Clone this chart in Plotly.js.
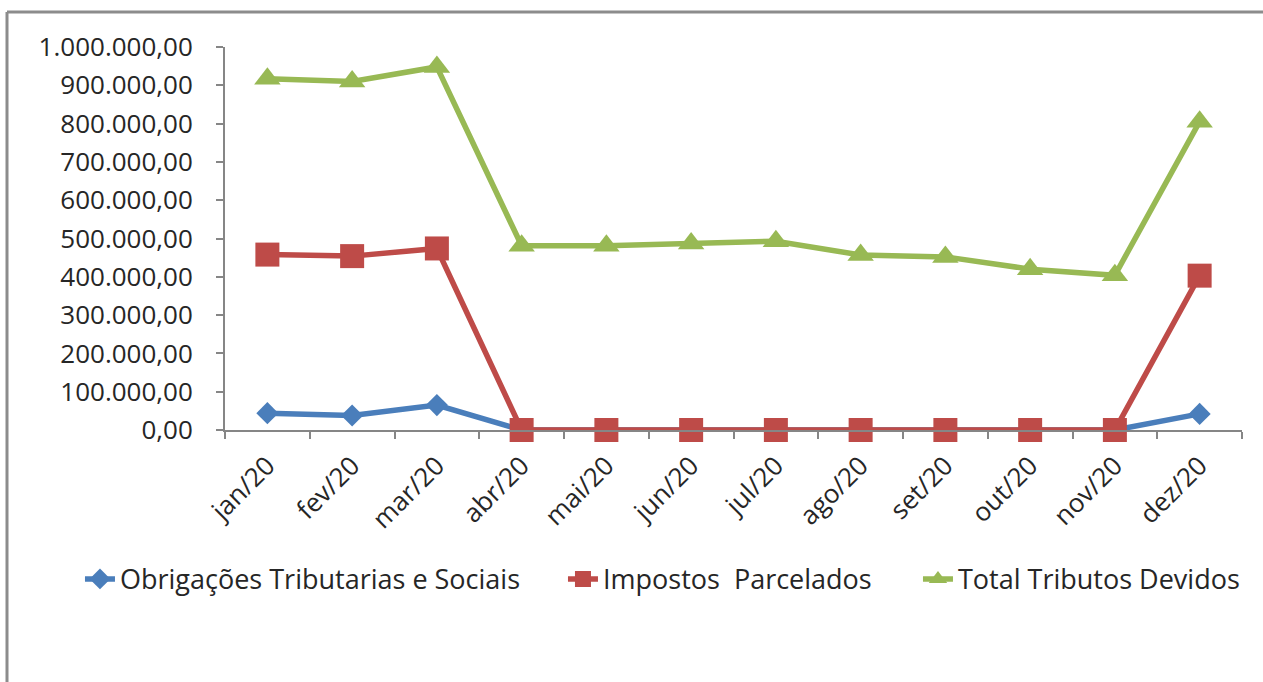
<!DOCTYPE html>
<html>
<head>
<meta charset="utf-8">
<script src="https://cdn.plot.ly/plotly-3.0.1.min.js"></script>
<style>
html,body{margin:0;padding:0;background:#fff;}
#chart{width:1263px;height:682px;}
</style>
</head>
<body>
<div id="chart"></div>
<script>
const months = ["jan/20","fev/20","mar/20","abr/20","mai/20","jun/20","jul/20","ago/20","set/20","out/20","nov/20","dez/20"];
const obrigacoes = [44000, 38000, 65000, 0, 0, 0, 0, 0, 0, 0, 0, 42000];
const parcelados = [458000, 454000, 474000, 0, 0, 0, 0, 0, 0, 0, 0, 403000];
const totalDevidos = [917000, 910000, 948000, 481000, 481000, 487000, 493000, 457000, 452000, 420000, 404000, 805000];
const seriesNames = ["Obrigações Tributarias e Sociais", "Impostos  Parcelados", "Total Tributos Devidos"];

const FONT = "Open Sans, Noto Sans, sans-serif";
const TXT = "#262626";
const traces = [
  {x: months, y: obrigacoes, name: seriesNames[0], type: "scatter", mode: "lines+markers", legendwidth: 438,
   line: {color: "#4A7EBB", width: 5.5}, marker: {symbol: "diamond", size: 17, color: "#4A7EBB"}, cliponaxis: false},
  {x: months, y: parcelados, name: seriesNames[1], type: "scatter", mode: "lines+markers", legendwidth: 310,
   line: {color: "#BE4B48", width: 5.5}, marker: {symbol: "square", size: 24, color: "#BE4B48"}, cliponaxis: false},
  {x: months, y: totalDevidos, name: seriesNames[2], type: "scatter", mode: "lines+markers",
   line: {color: "#98B954", width: 5.5}, marker: {symbol: "triangle-up", size: 23, color: "#98B954"}, cliponaxis: false}
];
const layout = {
  width: 1263, height: 682,
  margin: {l: 225, r: 21, t: 47, b: 252},
  paper_bgcolor: "#fff", plot_bgcolor: "#fff",
  separators: ",.",
  font: {family: FONT, size: 26, color: TXT},
  showlegend: true,
  legend: {orientation: "h", x: -0.1426, xanchor: "left", y: -0.39, yanchor: "middle",
           font: {family: FONT, size: 27, color: TXT}, itemwidth: 30, tracegroupgap: 0},
  xaxis: {type: "category", range: [-0.5, 11.5], showgrid: false, zeroline: false,
          showline: true, linecolor: "#868686", linewidth: 2,
          ticks: "outside", ticklen: 7, tickwidth: 2, tickcolor: "#868686", tickson: "boundaries",
          tickangle: -45, ticklabelstandoff: 8, tickfont: {family: FONT, size: 26, color: TXT}},
  yaxis: {range: [0, 1000000], dtick: 100000, tick0: 0, tickformat: ",.2f", showgrid: false, zeroline: false,
          showline: true, linecolor: "#868686", linewidth: 2,
          ticks: "outside", ticklen: 7, tickwidth: 2, tickcolor: "#868686", ticklabelstandoff: 18,
          tickfont: {family: FONT, size: 26, color: TXT}},
  shapes: [
    {type: "line", xref: "paper", yref: "paper", x0: (7-225)/1017, x1: (1263-225)/1017, y0: (430-12)/383, y1: (430-12)/383,
     line: {color: "#8C8C8C", width: 3}},
    {type: "line", xref: "paper", yref: "paper", x0: (7-225)/1017, x1: (7-225)/1017, y0: (430-12)/383, y1: (430-682)/383,
     line: {color: "#8C8C8C", width: 3}}
  ]
};
Plotly.newPlot("chart", traces, layout, {displayModeBar: false, staticPlot: true});
</script>
</body>
</html>
